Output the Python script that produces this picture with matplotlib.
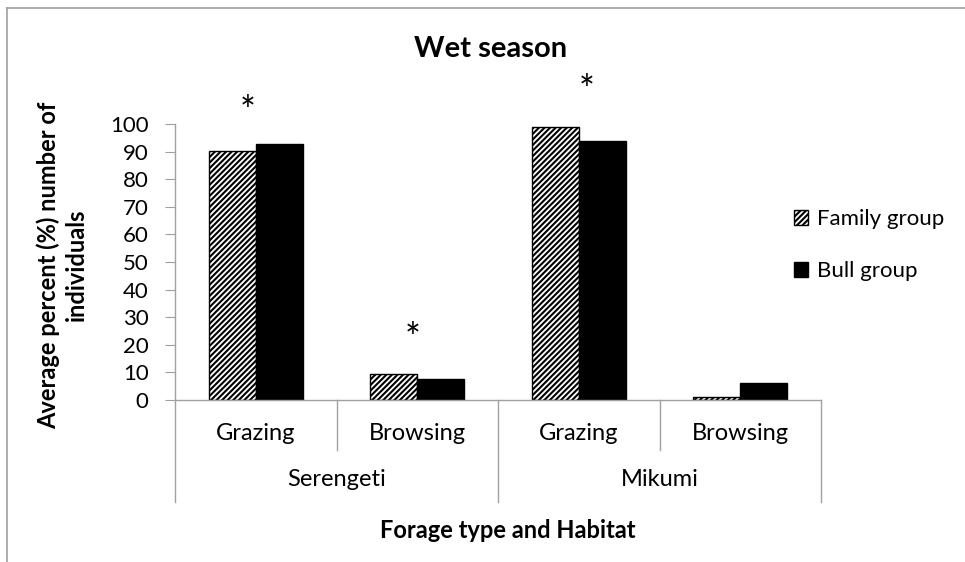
import matplotlib.pyplot as plt
from matplotlib.patches import Patch
from matplotlib.lines import Line2D
import numpy as np

forage = ["Grazing", "Browsing", "Grazing", "Browsing"]
habitats = ["Serengeti", "Mikumi"]
family_group = [90.3, 9.6, 98.8, 1.0]
bull_group = [92.7, 7.5, 94.0, 6.0]
star_x = [-0.05, 0.97, 2.05]
star_y = [104.0, 21.8, 111.6]

plt.rcParams['font.family'] = ['Lato', 'DejaVu Sans']
plt.rcParams['hatch.linewidth'] = 1.5
grey = '#a0a0a0'

fig = plt.figure(figsize=(9.65, 5.62), dpi=100)
ax = fig.add_axes([175 / 965, 1 - 400 / 562, 646 / 965, 276 / 562])

x = np.arange(len(forage))
w = 0.29
ax.bar(x - w / 2, family_group, w, color='white', edgecolor='black',
       hatch='//////', linewidth=1.0, label='Family group')
ax.bar(x + w / 2, bull_group, w, color='black', edgecolor='black',
       linewidth=1.0, label='Bull group')

for sx, sy in zip(star_x, star_y):
    ax.text(sx, sy, '*', ha='center', va='center', fontsize=27, clip_on=False)

ax.set_xlim(-0.5, 3.5)
ax.set_ylim(0, 100)
ax.set_yticks(range(0, 101, 10))
ax.set_xticks([])
ax.tick_params(axis='y', labelsize=16, color=grey, length=7, direction='out', pad=12)
for side in ['top', 'right']:
    ax.spines[side].set_visible(False)
for side in ['left', 'bottom']:
    ax.spines[side].set_color(grey)
    ax.spines[side].set_linewidth(1.0)

# two-level category axis
tr = ax.get_xaxis_transform()
for sep in [0.5, 2.5]:
    ax.add_line(Line2D([sep, sep], [0, -50 / 276], transform=tr, color=grey,
                       lw=1.0, clip_on=False))
for sep in [-0.5, 1.5, 3.5]:
    ax.add_line(Line2D([sep, sep], [0, -102 / 276], transform=tr, color=grey,
                       lw=1.0, clip_on=False))
for xi, lab in zip(x, forage):
    ax.text(xi, -33 / 276, lab, transform=tr, ha='center', va='center', fontsize=17)
for i, lab in enumerate(habitats):
    ax.text(2 * i + 0.5, -80 / 276, lab, transform=tr, ha='center', va='center',
            fontsize=17)

fig.text(491 / 965, 1 - 49 / 562, 'Wet season', ha='center', va='center',
         fontsize=21, fontweight='bold')
fig.text(508 / 965, 1 - 531 / 562, 'Forage type and Habitat', ha='center',
         va='center', fontsize=17, fontweight='bold')
fig.text(62 / 965, 1 - 265 / 562, 'Average percent (%) number of\nindividuals',
         ha='center', va='center', rotation=90, fontsize=17, fontweight='bold',
         linespacing=1.25)

handles = [Patch(facecolor='white', edgecolor='black', hatch='//////', label='Family group'),
           Patch(facecolor='black', edgecolor='black', label='Bull group')]
fig.legend(handles=handles, loc='center left', bbox_to_anchor=(774 / 965, 1 - 245 / 562),
           frameon=False, fontsize=16, handlelength=0.65, handleheight=0.65,
           handletextpad=0.4, labelspacing=1.45)

# chart border
fig.add_artist(Line2D([7 / 965, 7 / 965], [0, 1 - 8 / 562], transform=fig.transFigure,
                      color=grey, lw=1.2))
fig.add_artist(Line2D([7 / 965, 1], [1 - 8 / 562, 1 - 8 / 562], transform=fig.transFigure,
                      color=grey, lw=1.2))

fig.savefig('out.png', dpi=100)
